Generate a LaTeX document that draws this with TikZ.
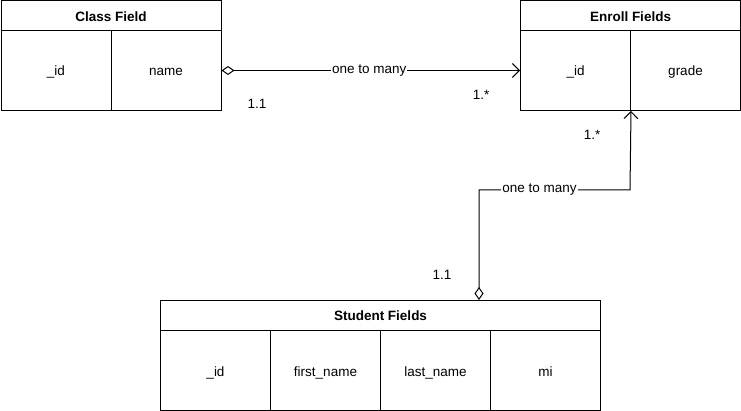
\documentclass[tikz,border=0pt]{standalone}
\usepackage{fontspec}
\setmainfont{Liberation Sans}
\usetikzlibrary{arrows.meta}
\begin{document}
\begin{tikzpicture}[x=1pt,y=-1pt,
  cell/.style={draw=black,line width=1pt,minimum height=80pt,inner sep=0pt,text height=12pt,text depth=1pt,font=\fontsize{13.5}{15}\selectfont},
  head/.style={draw=black,line width=1pt,minimum height=30pt,inner sep=0pt,text height=12pt,text depth=1pt,font=\bfseries\fontsize{13.5}{15}\selectfont},
  conn/.style={draw=black,line width=1pt,{Diamond[open,length=13pt,width=9pt]}-{Straight Barb[length=7pt,width=14pt,line width=1pt]}},
  lbl/.style={fill=white,inner sep=1pt,font=\fontsize{13.5}{15}\selectfont},
  mult/.style={inner sep=0pt,font=\fontsize{13.5}{15}\selectfont}]
\useasboundingbox (0,0) rectangle (741,411);
% Class Field
\node[head,minimum width=220pt,anchor=north west] (ch) at (0.5,0.5) {Class Field};
\node[cell,minimum width=110pt,anchor=north west] (cid) at (0.5,30) {\_id};
\node[cell,minimum width=110pt,anchor=north west] (cname) at (110.5,30) {name};
% Enroll Fields
\node[head,minimum width=220pt,anchor=north west] (eh) at (520,0.5) {Enroll Fields};
\node[cell,minimum width=110pt,anchor=north west] (eid) at (520,30) {\_id};
\node[cell,minimum width=110pt,anchor=north west] (egrade) at (630,30) {grade};
% Student Fields
\node[head,minimum width=440pt,anchor=north west] (sh) at (160,300) {Student Fields};
\node[cell,minimum width=110pt,anchor=north west] (sid) at (160,330) {\_id};
\node[cell,minimum width=110pt,anchor=north west] (sfirst) at (270,330) {first\_name};
\node[cell,minimum width=110pt,anchor=north west] (slast) at (380,330) {last\_name};
\node[cell,minimum width=110pt,anchor=north west] (smi) at (490,330) {mi};
% connector 1
\draw[conn] (cname.east) -- node[lbl,pos=0.495]{one to many} (eid.west);
\node[mult] (m1) at (257,104) {1.1};
\node[mult] (m2) at (481,95) {1.*};
% connector 2
\coordinate (b1) at (479,190);
\coordinate (b2) at (630,190);
\draw[conn] (sh.north -| b1) -- (b1) -- node[lbl,pos=0.40]{one to many} (b2) -- (eid.south east);
\node[mult] (m3) at (442,275) {1.1};
\node[mult] (m4) at (592,135) {1.*};
\end{tikzpicture}
\end{document}
